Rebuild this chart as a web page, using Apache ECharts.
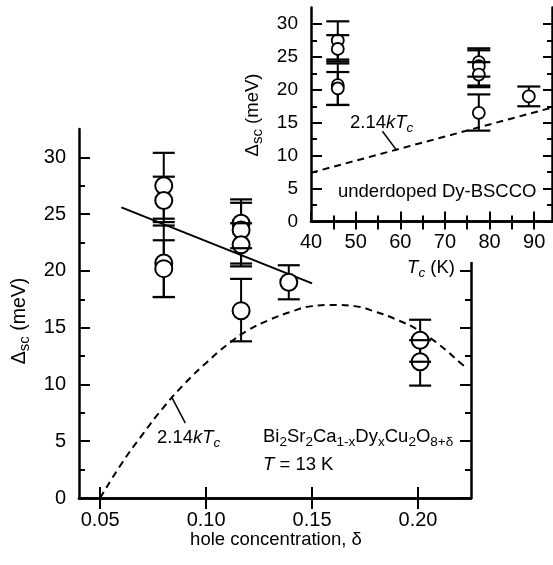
<!doctype html>
<html>
	<head>
		<meta charset="utf-8">
		<title>Dy-BSCCO gap</title>
		<script src="https://cdn.jsdelivr.net/npm/echarts@6/dist/echarts.min.js"></script>
		<style>
			html, body { margin: 0; padding: 0; background: #fff; }
			#chart { width: 553px; height: 565px; }
		</style>
	</head>
	<body>
		<div id="chart"></div>
		<script type="text/javascript">
			// main panel: gap vs hole concentration
			var mainDelta = [0.08, 0.08, 0.08, 0.08, 0.1165, 0.1165, 0.1165, 0.1165, 0.139, 0.201, 0.201];
			var gapMeV = [27.5, 26.2, 20.7, 20.2, 24.2, 23.6, 22.3, 16.5, 19.0, 13.9, 12.0];
			var errLow = [24.6, 24.3, 17.7, 17.7, 22.0, 20.65, 20.4, 13.8, 17.5, 12.0, 9.9];
			var errHigh = [30.4, 28.3, 24.0, 22.7, 26.3, 26.0, 24.2, 19.3, 20.5, 15.7, 13.9];

			var fitDelta = [0.06, 0.150];
			var fitGap = [25.6, 18.9];

			// 2.14kTc dashed curve
			var dashDelta = [0.05, 0.06, 0.07, 0.08, 0.09, 0.10, 0.11, 0.12, 0.13, 0.14, 0.15, 0.16, 0.17, 0.18, 0.19, 0.20, 0.21, 0.22, 0.222];
			var dashGap = [0, 3.0, 5.6, 8.0, 10.1, 11.9, 13.5, 14.8, 15.7, 16.4, 16.9, 17.0, 16.9, 16.4, 15.7, 14.8, 13.5, 11.9, 11.6];

			var mainPtrDelta = [0.084, 0.0902];
			var mainPtrGap = [8.8, 6.6];

			// inset: underdoped samples vs Tc (same gaps as first 9 points)
			var insetTc = [46, 46, 46, 46, 77.6, 77.6, 77.6, 77.6, 88.8];
			var insetDashTc = [40, 94];
			var insetDashGap = [7.4, 17.3];
			var insetPtrTc = [56.0, 59.2];
			var insetPtrGap = [13.7, 10.8];

			// tick values
			var mainXTicks = [0.05, 0.10, 0.15, 0.20];
			var gapTicks = [0, 5, 10, 15, 20, 25, 30];
			var gapMinor = [2.5, 7.5, 12.5, 17.5, 22.5, 27.5];
			var tcTicks = [40, 50, 60, 70, 80, 90];
			var tcMinor = [45, 55, 65, 75, 85];
			var tcTop = [45, 50, 55, 60, 65, 70, 75, 80, 85, 90];

			var FONT = 'Liberation Sans, Arial, Helvetica, sans-serif';
			var chart = echarts.init(document.getElementById('chart'));

			function pairs(xs, ys) {
				return xs.map(function(x, i) { return [x, ys[i]]; });
			}
			function bars(xs, lo, hi) {
				return xs.map(function(x, i) { return [x, lo[i], hi[i]]; });
			}

			// one decorative/labelled axis
			function axis(grid, pos, min, max, ticks, len, opt) {
				opt = opt || {};
				return {
					type: 'value', gridIndex: grid, position: pos, min: min, max: max,
					z: opt.z || 0,
					axisLine: { show: opt.line !== false, lineStyle: { color: '#000', width: 2.5 } },
					axisTick: { show: true, inside: true, length: len, customValues: ticks, lineStyle: { color: '#000', width: 2 } },
					axisLabel: {
						show: !!opt.labels, customValues: ticks, margin: opt.margin || 12,
						color: '#000', fontSize: opt.fs || 20, fontFamily: FONT,
						formatter: opt.fmt || function(v) { return String(v); }
					},
					splitLine: { show: false }
				};
			}

			var xAxes = [
				axis(0, 'bottom', 0.04, 0.225, mainXTicks, 11, { labels: true, margin: 12, fmt: function(v) { return v.toFixed(2); } }),
				axis(0, 'top', 0.04, 0.225, mainXTicks, 11),
				axis(1, 'bottom', 40, 94, tcTicks, 10, { labels: true, margin: 11, z: 3 }),
				axis(1, 'bottom', 40, 94, tcMinor, 6, { line: false, z: 3 }),
				axis(1, 'top', 40, 94, tcTop, 8, { z: 3 })
			];
			var yAxes = [
				axis(0, 'left', 0, 32.5, gapTicks, 11, { labels: true, margin: 13 }),
				axis(0, 'left', 0, 32.5, gapMinor, 6, { line: false }),
				axis(0, 'right', 0, 32.5, gapTicks, 11),
				axis(0, 'right', 0, 32.5, gapMinor, 6, { line: false }),
				axis(1, 'left', 0, 32.5, gapTicks, 11, { labels: true, margin: 13, fs: 19, z: 3 }),
				axis(1, 'left', 0, 32.5, gapMinor, 6, { line: false, z: 3 }),
				axis(1, 'right', 0, 32.5, gapTicks, 9, { z: 3 }),
				axis(1, 'right', 0, 32.5, gapMinor, 5, { line: false, z: 3 })
			];

			function stemItem(lw) {
				return function(params, api) {
					var x = api.value(0);
					var a = api.coord([x, api.value(1)]);
					var b = api.coord([x, api.value(2)]);
					return { type: 'line', shape: { x1: a[0], y1: a[1], x2: b[0], y2: b[1] }, style: { stroke: '#000', lineWidth: lw } };
				};
			}
			function capItem(hw, lw) {
				return function(params, api) {
					var x = api.value(0);
					var a = api.coord([x, api.value(1)]);
					var b = api.coord([x, api.value(2)]);
					return {
						type: 'group',
						children: [
							{ type: 'line', shape: { x1: a[0] - hw, y1: a[1], x2: a[0] + hw, y2: a[1] }, style: { stroke: '#000', lineWidth: lw } },
							{ type: 'line', shape: { x1: b[0] - hw, y1: b[1], x2: b[0] + hw, y2: b[1] }, style: { stroke: '#000', lineWidth: lw } }
						]
					};
				};
			}

			var subLow = gapMeV.slice(0, 9);
			var insetLow = errLow.slice(0, 9);
			var insetHigh = errHigh.slice(0, 9);

			var series = [
				// main panel
				{ type: 'line', xAxisIndex: 0, yAxisIndex: 0, data: pairs(dashDelta, dashGap), smooth: true, symbol: 'none', z: 2,
					lineStyle: { color: '#000', width: 2, type: [7, 5] } },
				{ type: 'line', xAxisIndex: 0, yAxisIndex: 0, data: pairs(fitDelta, fitGap), symbol: 'none', z: 2,
					lineStyle: { color: '#000', width: 2 } },
				{ type: 'line', xAxisIndex: 0, yAxisIndex: 0, data: pairs(mainPtrDelta, mainPtrGap), symbol: 'none', z: 2,
					lineStyle: { color: '#000', width: 1.5 } },
				{ type: 'custom', xAxisIndex: 0, yAxisIndex: 0, data: bars(mainDelta, errLow, errHigh), encode: { x: 0, y: [1, 2] },
					renderItem: stemItem(2), z: 2 },
				{ type: 'scatter', xAxisIndex: 0, yAxisIndex: 0, data: pairs(mainDelta, gapMeV), symbol: 'circle', symbolSize: 17, z: 3,
					itemStyle: { color: '#fff', borderColor: '#000', borderWidth: 2, opacity: 1 } },
				{ type: 'custom', xAxisIndex: 0, yAxisIndex: 0, data: bars(mainDelta, errLow, errHigh), encode: { x: 0, y: [1, 2] },
					renderItem: capItem(11, 2.2), z: 4 },
				// inset
				{ type: 'line', xAxisIndex: 2, yAxisIndex: 4, data: pairs(insetDashTc, insetDashGap), symbol: 'none', z: 5,
					lineStyle: { color: '#000', width: 2, type: [7, 5] } },
				{ type: 'line', xAxisIndex: 2, yAxisIndex: 4, data: pairs(insetPtrTc, insetPtrGap), symbol: 'none', z: 5,
					lineStyle: { color: '#000', width: 1.5 } },
				{ type: 'custom', xAxisIndex: 2, yAxisIndex: 4, data: bars(insetTc, insetLow, insetHigh), encode: { x: 0, y: [1, 2] },
					renderItem: stemItem(2), z: 5 },
				{ type: 'scatter', xAxisIndex: 2, yAxisIndex: 4, data: pairs(insetTc, subLow), symbol: 'circle', symbolSize: 12, z: 6,
					itemStyle: { color: '#fff', borderColor: '#000', borderWidth: 1.8, opacity: 1 } },
				{ type: 'custom', xAxisIndex: 2, yAxisIndex: 4, data: bars(insetTc, insetLow, insetHigh), encode: { x: 0, y: [1, 2] },
					renderItem: capItem(11.5, 2.2), z: 7 }
			];

			var rich = {
				n: { fontSize: 18.5, fontFamily: FONT, lineHeight: 24, fill: '#000' },
				i: { fontSize: 18.5, fontFamily: FONT, fontStyle: 'italic', lineHeight: 24, fill: '#000' },
				s: { fontSize: 13.5, fontFamily: FONT, lineHeight: 12, verticalAlign: 'bottom', fill: '#000' },
				si: { fontSize: 13.5, fontFamily: FONT, fontStyle: 'italic', lineHeight: 12, verticalAlign: 'bottom', fill: '#000' },
				y: { fontSize: 19.5, fontFamily: FONT, lineHeight: 24, fill: '#000' },
				ys: { fontSize: 15, fontFamily: FONT, lineHeight: 12, verticalAlign: 'bottom', fill: '#000' }
			};
			function label(x, y, text, align, rot) {
				return {
					type: 'text', x: x, y: y, z: 10, rotation: rot || 0,
					style: { text: text, rich: rich, fill: '#000', fontSize: 18.5, fontFamily: FONT,
						textAlign: align || 'left', textVerticalAlign: 'middle' }
				};
			}

			var graphics = [
				// white box that the inset sits on
				{ type: 'rect', z: 1, shape: { x: 235, y: 0, width: 318, height: 262 }, style: { fill: '#fff' } },
				label(157, 438, '{n|2.14}{i|kT}{si|c}'),
				label(263, 437, '{n|Bi}{s|2}{n|Sr}{s|2}{n|Ca}{s|1-x}{n|Dy}{s|x}{n|Cu}{s|2}{n|O}{s|8+δ}'),
				label(263, 465, '{i|T}{n| = 13 K}'),
				label(350, 123, '{n|2.14}{i|kT}{si|c}'),
				label(338, 192, '{n|underdoped Dy-BSCCO}'),
				label(276, 540, '{n|hole concentration, δ}', 'center'),
				label(431, 268, '{i|T}{si|c}{n| (K)}', 'center'),
				label(20, 321, '{y|Δ}{ys|sc}{y| (meV)}', 'center', Math.PI / 2),
				label(253, 115, '{n|Δ}{ys|sc}{n| (meV)}', 'center', Math.PI / 2)
			];

			chart.setOption({
				animation: false,
				backgroundColor: '#fff',
				grid: [
					{ left: 79, top: 129, width: 392, height: 369, containLabel: false, outerBoundsMode: 'none' },
					{ left: 311, top: 7.5, width: 241, height: 214, containLabel: false, outerBoundsMode: 'none' }
				],
				xAxis: xAxes,
				yAxis: yAxes,
				series: series,
				graphic: { elements: graphics }
			});
		</script>
	</body>
</html>
